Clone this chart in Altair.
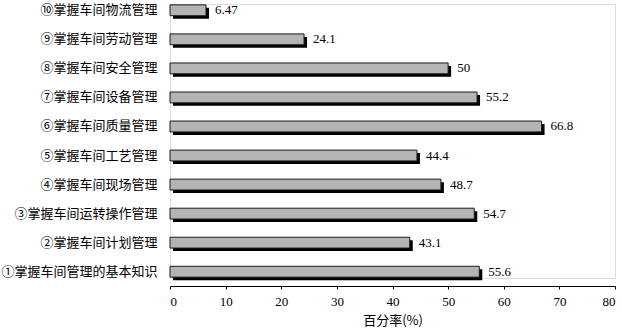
import altair as alt
import pandas as pd

categories = ["⑩掌握车间物流管理", "⑨掌握车间劳动管理", "⑧掌握车间安全管理", "⑦掌握车间设备管理",
              "⑥掌握车间质量管理", "⑤掌握车间工艺管理", "④掌握车间现场管理", "③掌握车间运转操作管理",
              "②掌握车间计划管理", "①掌握车间管理的基本知识"]
values = [6.47, 24.1, 50, 55.2, 66.8, 44.4, 48.7, 54.7, 43.1, 55.6]
labels = ["6.47", "24.1", "50", "55.2", "66.8", "44.4", "48.7", "54.7", "43.1", "55.6"]
x_ticks = [0, 10, 20, 30, 40, 50, 60, 70, 80]

df = pd.DataFrame({"cat": categories, "val": values, "lab": labels})

yscale = alt.Scale(domain=categories, paddingInner=0.627, paddingOuter=0.03)
xscale = alt.Scale(domain=[0, 80], nice=False)

y_enc = alt.Y("cat:N", sort=categories, scale=yscale,
              axis=alt.Axis(title=None, domain=False, ticks=False, labelPadding=13,
                            labelFont="Noto Sans CJK SC", labelFontSize=13, labelColor="black"))
x_enc = alt.X("val:Q", scale=xscale,
              axis=alt.Axis(title="百分率(%)", values=x_ticks, grid=False, domainColor="black",
                            tickColor="black", tickSize=3, offset=8, labelPadding=6,
                            labelFont="Liberation Serif", labelFontSize=13, labelColor="black",
                            titleFont="Noto Sans CJK SC", titleFontSize=13, titleFontWeight="normal",
                            titleColor="black", titlePadding=6))

base = alt.Chart(df)

shadow = base.mark_bar(color="black", xOffset=3, x2Offset=3, yOffset=3).encode(
    y=y_enc, x=x_enc, x2=alt.datum(0))
bars = base.mark_bar(color="#b4b4b4", stroke="#1a1a1a", strokeWidth=1).encode(
    y=y_enc, x=x_enc)
text = base.mark_text(align="left", baseline="middle", dx=9, font="Liberation Serif",
                      fontSize=13, color="black").encode(y=y_enc, x=x_enc, text="lab:N")

chart = alt.layer(shadow, bars, text).properties(
    width=445, height=274,
    autosize=alt.AutoSizeParams(type="none"),
    padding={"left": 170, "top": 4, "right": 7, "bottom": 53}
).configure_view(stroke=None).configure(background="white")

chart.save("out.html", embed_options={"renderer": "svg", "actions": False})
